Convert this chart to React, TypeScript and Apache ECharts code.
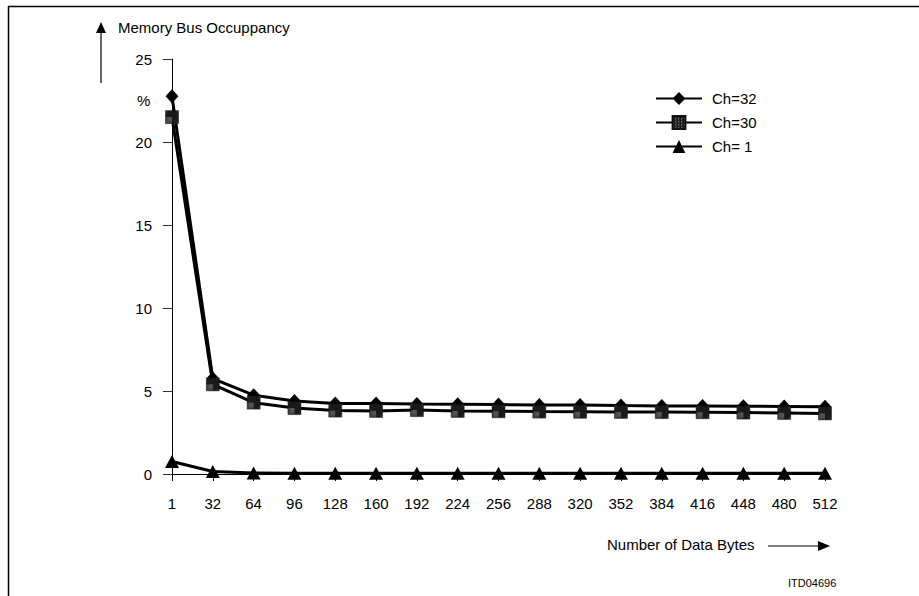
import React, { useEffect, useRef } from "react";
import * as echarts from "echarts";

const categories = ["1", "32", "64", "96", "128", "160", "192", "224", "256", "288", "320", "352", "384", "416", "448", "480", "512"];
const ch32 = [22.75, 5.75, 4.75, 4.4, 4.25, 4.25, 4.22, 4.2, 4.18, 4.16, 4.15, 4.12, 4.1, 4.1, 4.08, 4.07, 4.05];
const ch30 = [21.5, 5.4, 4.3, 3.97, 3.82, 3.8, 3.85, 3.8, 3.78, 3.76, 3.75, 3.74, 3.73, 3.72, 3.7, 3.68, 3.65];
const ch1 = [0.75, 0.15, 0.06, 0.05, 0.05, 0.05, 0.05, 0.05, 0.05, 0.05, 0.05, 0.05, 0.05, 0.05, 0.05, 0.05, 0.05];
const seriesNames = ["Ch=32", "Ch=30", "Ch= 1"];
const yTicks = { min: 0, max: 25, interval: 5 };

const FONT = "'Liberation Sans', Arial, sans-serif";

function makePattern(): any {
  const c = document.createElement("canvas");
  c.width = 3;
  c.height = 3;
  const g = c.getContext("2d")!;
  g.fillStyle = "#1a1a1a";
  g.fillRect(0, 0, 3, 3);
  g.fillStyle = "#a0a0a0";
  g.fillRect(1, 1, 1, 1);
  g.fillStyle = "#555";
  g.fillRect(2, 0, 1, 1);
  return { image: c, repeat: "repeat" };
}

export default function App() {
  const ref = useRef<HTMLDivElement>(null);
  useEffect(() => {
    if (!ref.current) return;
    const chart = echarts.init(ref.current, null, { renderer: "svg" });
    const pattern = makePattern();
    const lineStyle = { color: "#000", width: 3 };
    chart.setOption({
      animation: false,
      backgroundColor: "#fff",
      textStyle: { fontFamily: FONT },
      grid: { left: 172, right: 94, top: 59, bottom: 122 },
      legend: {
        orient: "vertical",
        left: 655,
        top: 91,
        padding: 0,
        itemWidth: 46,
        itemHeight: 16,
        itemGap: 9,
        textStyle: { fontFamily: FONT, fontSize: 15, color: "#000", padding: [0, 0, 0, 5] },
        data: seriesNames,
      },
      xAxis: {
        type: "category",
        data: categories,
        boundaryGap: false,
        axisLine: { lineStyle: { color: "#000", width: 1 } },
        axisTick: { show: true, length: 7, lineStyle: { color: "#000", width: 1 } },
        axisLabel: { fontFamily: FONT, fontSize: 15, color: "#000", margin: 22 },
        splitLine: { show: false },
      },
      yAxis: {
        type: "value",
        min: yTicks.min,
        max: yTicks.max,
        interval: yTicks.interval,
        axisLine: { show: true, lineStyle: { color: "#000", width: 1 } },
        axisTick: { show: true, length: 9, lineStyle: { color: "#333", width: 1 } },
        axisLabel: { fontFamily: FONT, fontSize: 15, color: "#000", margin: 20 },
        splitLine: { show: false },
      },
      series: [
        {
          name: seriesNames[0],
          type: "line",
          data: ch32,
          symbol: "diamond",
          symbolSize: [13, 14],
          lineStyle,
          itemStyle: { color: "#000" },
        },
        {
          name: seriesNames[1],
          type: "line",
          data: ch30,
          symbol: "rect",
          symbolSize: [13, 13],
          lineStyle,
          itemStyle: { color: pattern, borderColor: "#111", borderWidth: 0.5 },
        },
        {
          name: seriesNames[2],
          type: "line",
          data: ch1,
          symbol: "triangle",
          symbolSize: [14, 13],
          lineStyle,
          itemStyle: { color: "#000" },
        },
      ],
      graphic: [
        { type: "line", shape: { x1: 8, y1: 6.5, x2: 919, y2: 6.5 }, style: { stroke: "#000", lineWidth: 1.5 } },
        { type: "line", shape: { x1: 8.5, y1: 6, x2: 8.5, y2: 596 }, style: { stroke: "#000", lineWidth: 1.5 } },
        { type: "line", shape: { x1: 101, y1: 83, x2: 101, y2: 30 }, style: { stroke: "#000", lineWidth: 1.2 } },
        { type: "polygon", shape: { points: [[101, 22], [96, 33], [106, 33]] }, style: { fill: "#000" } },
        {
          type: "text",
          left: 118,
          top: 20,
          style: { text: "Memory Bus Occuppancy", font: `15px ${FONT}`, fill: "#000" },
        },
        {
          type: "text",
          left: 137,
          top: 93,
          style: { text: "%", font: `15px ${FONT}`, fill: "#000" },
        },
        {
          type: "text",
          left: 607,
          top: 537,
          style: { text: "Number of Data Bytes", font: `15px ${FONT}`, fill: "#000" },
        },
        { type: "line", shape: { x1: 768, y1: 546, x2: 820, y2: 546 }, style: { stroke: "#000", lineWidth: 1.2 } },
        { type: "polygon", shape: { points: [[830, 546], [818, 541], [818, 551]] }, style: { fill: "#000" } },
        {
          type: "text",
          left: 788,
          top: 577,
          style: { text: "ITD04696", font: `11px ${FONT}`, fill: "#000" },
        },
      ],
    });
    return () => chart.dispose();
  }, []);
  return (
    <div
      ref={ref}
      style={{ position: "fixed", left: 0, top: 0, width: 919, height: 596, background: "#fff" }}
    />
  );
}
